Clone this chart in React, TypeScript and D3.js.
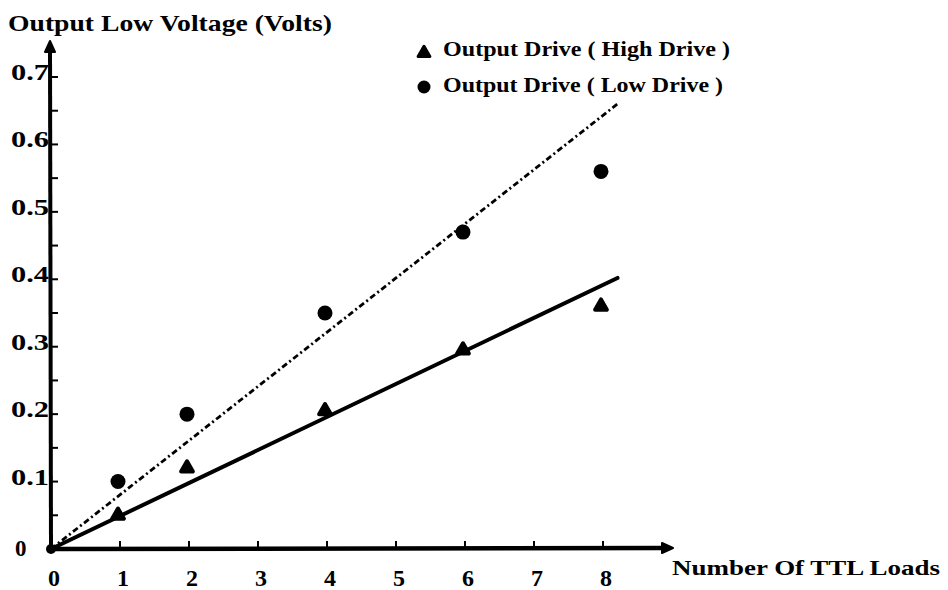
import React from "react";
import * as d3 from "d3";

const loads = [1, 2, 4, 6, 8];
const highDrive = [0.05, 0.12, 0.205, 0.295, 0.36];
const lowDrive = [0.1, 0.2, 0.35, 0.47, 0.56];
const highFit = [[0, 0], [8.21, 0.402]];
const lowFit = [[0, 0], [8.21, 0.66]];
const xTicks = [0, 1, 2, 3, 4, 5, 6, 7, 8];
const yTicks = [0, 0.1, 0.2, 0.3, 0.4, 0.5, 0.6, 0.7];
const yMinor = [0.05, 0.1, 0.15, 0.2, 0.25, 0.3, 0.35, 0.4, 0.45, 0.5, 0.55, 0.6, 0.65, 0.7];
const title = "Output Low Voltage (Volts)";
const xTitle = "Number Of TTL Loads";
const legendLabels = ["Output Drive ( High Drive )", "Output Drive ( Low Drive )"];

const W = 948, H = 590;
const x = d3.scaleLinear().domain([0, 8]).range([51, 603]);
const y = d3.scaleLinear().domain([0, 0.7]).range([549, 77]);
const font = "'Liberation Serif', 'Times New Roman', serif";

export default function App() {
  const line = d3.line<number[]>().x(d => x(d[0])).y(d => y(d[1]));
  const tri = d3.symbol().type(d3.symbolTriangle).size(60)();
  const x0 = x(0), y0 = y(0);
  return (
    <svg width={W} height={H} style={{ position: "absolute", left: 0, top: 0, background: "#fff" }}>
      <rect width={W} height={H} fill="#fff" />
      <g fontFamily={font} fontWeight="bold" fill="#000">
        <text x={8} y={31} fontSize={23} textLength={324} lengthAdjust="spacingAndGlyphs">{title}</text>
        {/* legend */}
        <path d={tri!} transform="translate(424,53)" fill="#000" stroke="#000" strokeWidth={3} strokeLinejoin="round" />
        <text x={443} y={56} fontSize={21} textLength={287} lengthAdjust="spacingAndGlyphs">{legendLabels[0]}</text>
        <circle cx={424} cy={87} r={6.5} fill="#000" />
        <text x={443} y={92} fontSize={21} textLength={280} lengthAdjust="spacingAndGlyphs">{legendLabels[1]}</text>
        <text x={672} y={575} fontSize={22} textLength={268} lengthAdjust="spacingAndGlyphs">{xTitle}</text>
        {xTicks.map(t => (
          <text key={"xl" + t} x={x(t) + 3} y={586} fontSize={24} textAnchor="middle">{t}</text>
        ))}
        {yTicks.map(t => (
          <text key={"yl" + t} x={t === 0 ? 15 : 11} y={y(t) + (t === 0 ? 7 : 3)} fontSize={23}
            textLength={t === 0 ? undefined : 38} lengthAdjust="spacingAndGlyphs">{t === 0 ? "0" : d3.format(".1f")(t)}</text>
        ))}
      </g>
      {/* axes */}
      <line x1={x0} y1={y0} x2={x0 - 1} y2={46} stroke="#000" strokeWidth={4} />
      <path d={`M${x0 - 6},${52} L${x0 - 1},${41} L${x0 + 4},${52} Z`} fill="#000" stroke="#000" strokeWidth={2} strokeLinejoin="round" />
      <line x1={x0} y1={y0} x2={666} y2={y0 - 1} stroke="#000" strokeWidth={4.5} />
      <path d={`M${662},${y0 - 6} L${673},${y0 - 1} L${662},${y0 + 4} Z`} fill="#000" stroke="#000" strokeWidth={2} strokeLinejoin="round" />
      <circle cx={x0} cy={y0} r={5} fill="#000" />
      {xTicks.filter(t => t > 0).map(t => (
        <line key={"xt" + t} x1={x(t)} x2={x(t)} y1={y0} y2={y0 - 8} stroke="#000" strokeWidth={2} />
      ))}
      {yMinor.map(t => (
        <line key={"yt" + t} x1={x0} x2={x0 + 7} y1={y(t)} y2={y(t)} stroke="#000" strokeWidth={2} />
      ))}
      {/* fit lines */}
      <path d={line(lowFit)!} fill="none" stroke="#000" strokeWidth={2.8} strokeDasharray="6,3,2,3" />
      <path d={line(highFit)!} fill="none" stroke="#000" strokeWidth={4} strokeLinecap="round" />
      {/* points */}
      {loads.map((l, i) => (
        <circle key={"c" + l} cx={x(l) - 2} cy={y(lowDrive[i])} r={7.5} fill="#000" />
      ))}
      {loads.map((l, i) => (
        <path key={"t" + l} d={tri!} transform={`translate(${x(l) - 2},${y(highDrive[i])})`} fill="#000" stroke="#000" strokeWidth={4} strokeLinejoin="round" />
      ))}
    </svg>
  );
}
